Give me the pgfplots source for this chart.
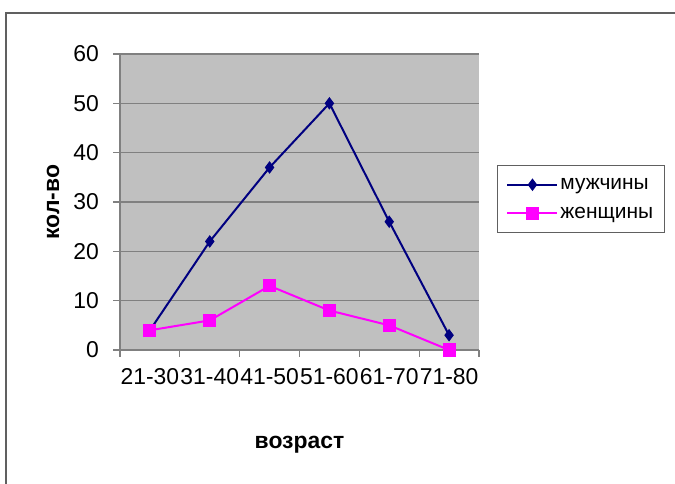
\documentclass[border=0pt]{standalone}
\usepackage{fontspec}
\setmainfont{Liberation Sans}
\usepackage{pgfplots}
\pgfplotsset{compat=1.18}
\definecolor{PlotGrey}{RGB}{192,192,192}
\definecolor{GridGrey}{RGB}{128,128,128}
\definecolor{MenBlue}{RGB}{0,0,128}
\definecolor{WomenPink}{RGB}{255,0,255}
\definecolor{FrameGrey}{RGB}{96,96,96}

\begin{document}
\begin{tikzpicture}
\path[use as bounding box] (0bp,0bp) rectangle (675bp,484bp);
% outer frame (left and top edges only are visible)
\draw[FrameGrey, line width=1.5bp] (6bp,0bp) -- (6bp,471bp) -- (676bp,471bp);

\begin{axis}[
    at={(120bp,134bp)}, anchor=south west,
    scale only axis,
    width=359bp, height=296bp,
    xmin=-0.5, xmax=5.5,
    ymin=0, ymax=60,
    axis background/.style={fill=PlotGrey},
    axis x line=bottom, axis y line=left,
    axis line style={GridGrey, line width=1.2bp, -},
    xtick={0,1,2,3,4,5},
    xticklabels={21-30,31-40,41-50,51-60,61-70,71-80},
    major x tick style={draw=none},
    minor xtick={-0.5,0.5,1.5,2.5,3.5,4.5,5.5},
    minor x tick style={GridGrey, line width=1.2bp},
    ytick={0,10,20,30,40,50,60},
    ymajorgrids,
    major grid style={GridGrey, line width=1.5bp},
    y tick style={GridGrey, line width=1.2bp},
    tick align=outside,
    major tick length=7bp, minor tick length=7bp,
    /pgf/number format/assume math mode=true,
    tick label style={font=\fontsize{23}{23}\selectfont, black},
    xticklabel style={inner sep=0bp, yshift=-11bp},
    yticklabel style={inner sep=1bp, xshift=-13bp},
    xlabel={возраст},
    ylabel={кол-во},
    xlabel style={at={(axis description cs:0.5,-0.321)}, anchor=center,
        font=\fontsize{23}{23}\selectfont\bfseries},
    ylabel style={at={(axis description cs:-0.1866,0.5)}, anchor=center, rotate=0,
        font=\fontsize{23}{23}\selectfont\bfseries},
    legend style={at={(axis description cs:1.05,0.625)}, anchor=north west,
        draw=FrameGrey, line width=1bp, fill=white,
        inner xsep=9bp, inner ysep=11bp, row sep=12bp,
        font=\fontsize{21}{21}\selectfont},
    legend cell align=left,
    legend image code/.code={
        \draw[line width=2bp, mark repeat=2, mark phase=2] plot coordinates {(0bp,0bp) (25bp,0bp) (50bp,0bp)};
    },
    clip=false,
]
\addplot[MenBlue, line width=2bp, mark=diamond*, mark size=5.5bp, mark options={fill=MenBlue, line width=1bp}]
    coordinates {(0,4) (1,22) (2,37) (3,50) (4,26) (5,3)};
\addlegendentry{мужчины}
\addplot[WomenPink, line width=2bp, mark=square*, mark size=6bp, mark options={fill=WomenPink, line width=1bp}]
    coordinates {(0,4) (1,6) (2,13) (3,8) (4,5) (5,0)};
\addlegendentry{женщины}
\end{axis}
\end{tikzpicture}
\end{document}
